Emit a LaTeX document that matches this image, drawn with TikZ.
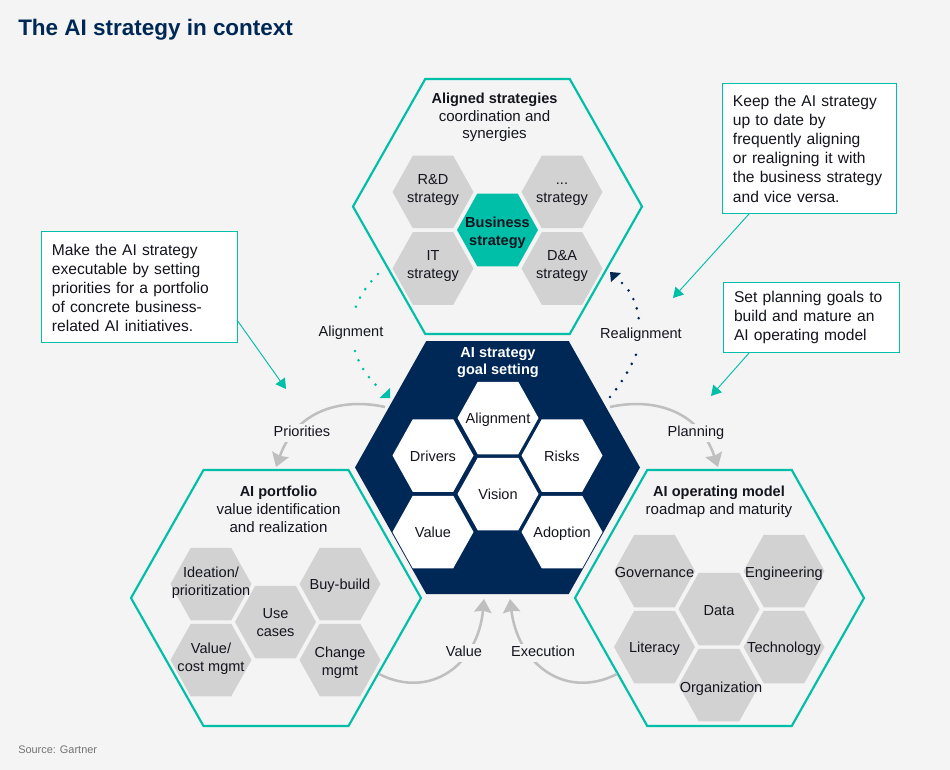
\documentclass[tikz,border=0pt]{standalone}
\usepackage{fontspec}
\setmainfont{Liberation Sans}
\usetikzlibrary{arrows.meta}
\definecolor{bgc}{HTML}{F4F4F4}
\definecolor{teal}{HTML}{00BFA9}
\definecolor{navy}{HTML}{002856}
\definecolor{hexg}{HTML}{D2D2D2}
\definecolor{arcg}{HTML}{BFBFBF}
\definecolor{ink}{HTML}{14141E}
\newcommand{\hexpath}[4]{(#1-#3/2,#2) -- (#1-#3/4,#2-#4/2) -- (#1+#3/4,#2-#4/2) -- (#1+#3/2,#2) -- (#1+#3/4,#2+#4/2) -- (#1-#3/4,#2+#4/2) -- cycle}
% small hexagon: [text shift], name, style, cx, cy, text
\newcommand{\smallhex}[6][]{\fill[#3] \hexpath{#4}{#5}{81}{72.5}; \node[hextext,#1] (#2) at (#4,#5) {\strut #6\strut};}
\newcommand{\hb}[1]{{\fontsize{10.9pt}{13.2pt}\selectfont\bfseries #1}}
\tikzset{
  x=0.75pt,y=-0.75pt,
  hextext/.style={align=center,font=\fontsize{10.9pt}{13.6pt}\selectfont,text=ink,inner sep=0pt,yshift=-1.5pt},
  frame/.style={draw=teal,line width=1.6pt,line join=miter},
  grayhex/.style={fill=hexg},
  whitehex/.style={fill=white},
  tealhex/.style={fill=teal},
  head/.style={align=center,font=\fontsize{11.3pt}{13.2pt}\selectfont,text=ink,inner sep=0pt,anchor=north},
  lbl/.style={font=\fontsize{10.9pt}{13pt}\selectfont,text=ink,fill=bgc,inner sep=1.5pt,text height=8pt,text depth=2.6pt,yshift=-1.5pt},
  arc/.style={draw=arcg,line width=1.9pt,-{Stealth[width=13pt,length=10pt,inset=1.2pt]}},
  dotline/.style={line width=2.2pt,line cap=round,dash pattern=on 0pt off 7.45pt},
  note/.style={draw=teal,fill=white,line width=0.7pt,align=left,anchor=north west,inner xsep=8.2pt,inner ysep=0pt,outer sep=0pt,
    font=\fontsize{11.7pt}{14.4pt}\selectfont,text=ink},
  pointer/.style={draw=teal,line width=0.7pt,-{Triangle[width=8.5pt,length=7.5pt]}},
}
\begin{document}
\begin{tikzpicture}
\useasboundingbox (0,0) rectangle (950,770);
\fill[bgc] (0,0) rectangle (950,770);

\node[anchor=west,inner sep=0pt,text=navy,font=\fontsize{16.85pt}{19pt}\selectfont\bfseries] (title) at (18,30) {The AI strategy in context};
\node[anchor=west,inner sep=0pt,text=black!55,font=\fontsize{8.2pt}{10pt}\selectfont] (source) at (18,750) {Source: Gartner};

% big hexagons
\draw[frame] \hexpath{497.5}{206.5}{289}{255};
\fill[navy] \hexpath{497.5}{467.5}{285}{253};
\draw[frame] \hexpath{276}{598}{290}{256};
\draw[frame] \hexpath{719.5}{598}{289}{256};

% top group
\node[head] (alignedhead) at (494.5,93) {\hb{Aligned strategies}\\coordination and\\synergies};
\smallhex[yshift=3pt]{rd}{grayhex}{433}{192}{R\&D\\strategy}
\smallhex[yshift=3pt]{other}{grayhex}{562}{192}{...\\strategy}
\smallhex[yshift=3.4pt]{it}{grayhex}{433}{268.5}{IT\\strategy}
\smallhex[yshift=3.4pt]{da}{grayhex}{562}{268.5}{D\&A\\strategy}
\smallhex[yshift=-0.7pt]{biz}{tealhex}{497.5}{230}{\textbf{Business}\\\textbf{strategy}}

% centre group
\node[head,text=white] (goalhead) at (498,347) {\hb{AI strategy}\\\hb{goal setting}};
\smallhex{alignment}{whitehex}{498}{418}{Alignment}
\smallhex{drivers}{whitehex}{433}{455.5}{Drivers}
\smallhex{risks}{whitehex}{562}{455.5}{Risks}
\smallhex{vision}{whitehex}{498}{494}{Vision}
\smallhex{valueh}{whitehex}{433}{532}{Value}
\smallhex{adoption}{whitehex}{562}{532}{Adoption}

% portfolio group
\node[head] (portfoliohead) at (278.5,486) {\hb{AI portfolio}\\value identification\\and realization};
\smallhex[yshift=2.6pt]{ideation}{grayhex}{211}{584}{Ideation/\\prioritization}
\smallhex{buy}{grayhex}{340}{584}{Buy-build}
\smallhex{usecases}{grayhex}{275.5}{622}{Use\\cases}
\smallhex[yshift=2.2pt]{costm}{grayhex}{211}{660}{Value/\\cost mgmt}
\smallhex[yshift=-0.7pt]{change}{grayhex}{340}{660}{Change\\mgmt}

% operating model group
\node[head] (opmhead) at (719,486) {\hb{AI operating model}\\roadmap and maturity};
\smallhex[yshift=-0.7pt]{gov}{grayhex}{654.5}{571}{Governance}
\smallhex[yshift=-0.7pt]{eng}{grayhex}{784}{571}{Engineering}
\smallhex[yshift=-0.7pt]{data}{grayhex}{719}{609}{Data}
\smallhex{lit}{grayhex}{654.5}{647}{Literacy}
\smallhex{tech}{grayhex}{784}{647}{Technology}
\smallhex[xshift=1.5pt,yshift=-1.5pt]{org}{grayhex}{719}{685}{Organization}

% free ends
\coordinate (pS) at (385,407); \coordinate (pE) at (276,467);
\coordinate (nS) at (610,407); \coordinate (nE) at (718,467);
\coordinate (vS) at (379,674); \coordinate (vE) at (484,599);
\coordinate (xS) at (617,674); \coordinate (xE) at (510,599);
\coordinate (a1) at (378,274); \coordinate (a2) at (355,309);
\coordinate (a3) at (355,351); \coordinate (a4) at (378,387);
\coordinate (r1) at (610,397); \coordinate (r2) at (637,352);
\coordinate (r3) at (639,321); \coordinate (r4) at (622,283);

% grey arcs
\draw[arc] (pS) .. controls (345,398) and (297,408) .. (pE);
\draw[arc] (nS) .. controls (650,398) and (698,408) .. (nE);
\draw[arc] (vS) .. controls (430,700) and (478,665) .. (vE);
\draw[arc] (xS) .. controls (566,700) and (518,665) .. (xE);
\node[lbl] (lpri) at (302,431) {Priorities};
\node[lbl] (lpla) at (696,431) {Planning};
\node[lbl] (lval) at (464,651) {Value};
\node[lbl] (lexe) at (543,651) {Execution};

% dotted alignment arcs
\draw[teal,dotline] (a1) .. controls (367,285) and (359,297) .. (a2);
\draw[teal,dotline] (a3) .. controls (359,364) and (367,377) .. (a4);
\fill[teal] (390,398) -- (390,388) -- (379.5,398) -- cycle;
\draw[navy,dotline] (r1) .. controls (620,385) and (631,368) .. (r2);
\draw[navy,dotline] (r4) .. controls (632,292) and (638,307) .. (r3);
\fill[navy] (610,272) -- (621,273) -- (611,282) -- cycle;
\node[lbl] (lali) at (351,331) {Alignment};
\node[lbl] (lrea) at (641,333) {Realignment};

% callouts
\node[note,minimum width=147pt,minimum height=83pt,text width=130.6pt] (n1) at (41,231.5) {\rule{0pt}{10pt}Make the AI strategy\\executable by setting\\priorities for a portfolio\\of concrete business-\\related AI initiatives.};
\coordinate (n1S) at (237,320); \coordinate (n1E) at (286,389);
\draw[pointer] (n1S) -- (n1E);
\node[note,minimum width=131pt,minimum height=97.5pt,text width=114.6pt] (n2) at (722,83.5) {Keep the AI strategy\\up to date by\\frequently aligning\\or realigning it with\\the business strategy\\and vice versa.};
\coordinate (n2S) at (749,214); \coordinate (n2E) at (673,298);
\draw[pointer] (n2S) -- (n2E);
\node[note,minimum width=132.5pt,minimum height=53pt,text width=116pt] (n3) at (723,282) {Set planning goals to\\build and mature an\\AI operating model};
\coordinate (n3S) at (749,353); \coordinate (n3E) at (711,396);
\draw[pointer] (n3S) -- (n3E);
\end{tikzpicture}
\end{document}
